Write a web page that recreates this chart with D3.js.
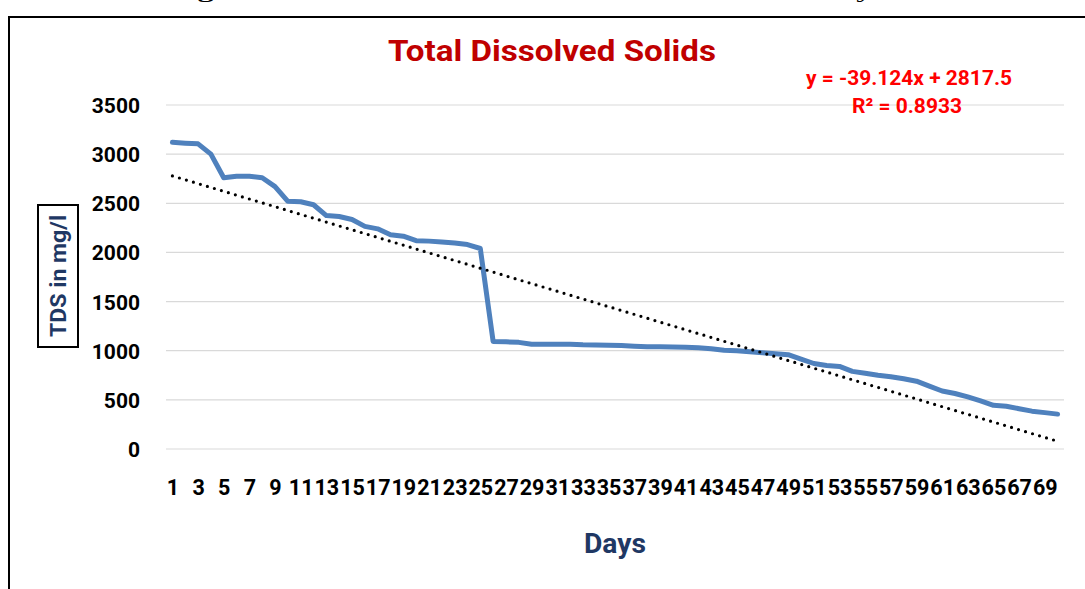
<!DOCTYPE html>
<html>
<head>
<meta charset="utf-8">
<script src="https://cdnjs.cloudflare.com/ajax/libs/d3/7.8.5/d3.min.js"></script>
<style>
  body { margin: 0; background: #fff; }
  svg { display: block; font-family: Roboto, "Liberation Sans", sans-serif; }
</style>
</head>
<body>
<div id="chart"></div>
<script>
// Donnees (TDS en mg/l, jours 1 a 70)
const days = d3.range(1, 71);
const tds = [
  3120, 3112, 3105, 3000, 2760, 2775, 2775, 2760, 2670, 2520,
  2515, 2485, 2375, 2365, 2335, 2265, 2240, 2180, 2165, 2120,
  2115, 2105, 2095, 2080, 2040, 1095, 1090, 1085, 1065, 1065,
  1065, 1065, 1060, 1058, 1055, 1052, 1045, 1040, 1040, 1038,
  1035, 1030, 1020, 1005, 1000, 990, 980, 970, 960, 915,
  870, 850, 840, 790, 770, 750, 735, 715, 690, 640,
  590, 565, 530, 490, 445, 435, 410, 385, 370, 355
];
const yTicks = [0, 500, 1000, 1500, 2000, 2500, 3000, 3500];
const trendSlope = -39.124, trendIntercept = 2817.5, rSquared = 0.8933;

var width = 1085, height = 589;
var plot = { left: 166, right: 1064, top: 105, bottom: 449 };

var svg = d3.select("#chart").append("svg")
    .attr("width", width)
    .attr("height", height);

// Legende de la figure, coupee en haut comme sur l'original
svg.append("text")
    .attr("x", 170).attr("y", -2)
    .attr("textLength", 722)
    .attr("lengthAdjust", "spacingAndGlyphs")
    .style("font-family", "'Liberation Serif', 'DejaVu Serif', serif")
    .style("font-weight", "bold")
    .style("font-size", "17px")
    .text("Figure 3.6: Variation of TDS concentration in 70 days.");

svg.append("path")
    .attr("d", "M9,589 V17 H1085")
    .attr("fill", "none")
    .attr("stroke", "black")
    .attr("stroke-width", 2);

var x = d3.scalePoint()
    .domain(days)
    .range([plot.left, plot.right])
    .padding(0.5);

var y = d3.scaleLinear()
    .domain([0, 3500])
    .range([plot.bottom, plot.top]);

// Grille
svg.append("g").selectAll("line")
    .data(yTicks)
    .enter().append("line")
    .attr("x1", plot.left).attr("x2", plot.right)
    .attr("y1", d => y(d)).attr("y2", d => y(d))
    .attr("stroke", "#d9d9d9")
    .attr("stroke-width", 1.2);

// Axe Y
var yAxis = svg.append("g")
    .attr("transform", "translate(140,0)")
    .call(d3.axisLeft(y).tickValues(yTicks).tickFormat(d3.format("d")).tickSize(0).tickPadding(0));
yAxis.select(".domain").remove();
yAxis.selectAll("text")
    .attr("dy", "0.36em")
    .style("font-family", "Roboto, sans-serif")
    .style("font-weight", "bold")
    .style("font-size", "21px")
    .attr("fill", "#000");

// Axe X (un jour sur deux)
var xAxis = svg.append("g")
    .attr("transform", "translate(0," + plot.bottom + ")")
    .call(d3.axisBottom(x).tickValues(days.filter(d => d % 2 === 1)).tickSize(0).tickPadding(0));
xAxis.select(".domain").remove();
xAxis.selectAll("text")
    .attr("y", 46)
    .attr("dy", 0)
    .style("font-family", "Roboto, sans-serif")
    .style("font-weight", "bold")
    .style("font-size", "21.5px")
    .attr("fill", "#000");

// Courbe TDS
var line = d3.line()
    .x((d, i) => x(days[i]))
    .y(d => y(d));

svg.append("path")
    .datum(tds)
    .attr("d", line)
    .attr("fill", "none")
    .attr("stroke", "#4f81bd")
    .attr("stroke-width", 5)
    .attr("stroke-linejoin", "round")
    .attr("stroke-linecap", "round");

// Tendance lineaire
var d0 = days[0], d1 = days[days.length - 1];
svg.append("line")
    .attr("x1", x(d0)).attr("y1", y(trendSlope * d0 + trendIntercept))
    .attr("x2", x(d1)).attr("y2", y(trendSlope * d1 + trendIntercept))
    .attr("stroke", "#000")
    .attr("stroke-width", 3.2)
    .attr("stroke-linecap", "round")
    .attr("stroke-dasharray", "0 7.3");

// Titre
svg.append("text")
    .attr("x", 552).attr("y", 61)
    .attr("text-anchor", "middle")
    .attr("textLength", 328)
    .attr("lengthAdjust", "spacingAndGlyphs")
    .attr("fill", "#c00000")
    .style("font-weight", "bold")
    .style("font-size", "30px")
    .text("Total Dissolved Solids");

// Equation
svg.append("text")
    .attr("x", 909).attr("y", 85)
    .attr("text-anchor", "middle")
    .attr("textLength", 206)
    .attr("lengthAdjust", "spacingAndGlyphs")
    .attr("fill", "#ff0000")
    .style("font-weight", "bold")
    .style("font-size", "21px")
    .text("y = " + trendSlope + "x + " + trendIntercept);

svg.append("text")
    .attr("x", 907).attr("y", 113)
    .attr("text-anchor", "middle")
    .attr("textLength", 110)
    .attr("lengthAdjust", "spacingAndGlyphs")
    .attr("fill", "#ff0000")
    .style("font-weight", "bold")
    .style("font-size", "21px")
    .text("R² = " + rSquared);

// Titre axe X
svg.append("text")
    .attr("x", 615).attr("y", 553)
    .attr("text-anchor", "middle")
    .attr("textLength", 62)
    .attr("lengthAdjust", "spacingAndGlyphs")
    .attr("fill", "#1f3864")
    .style("font-weight", "bold")
    .style("font-size", "28px")
    .text("Days");

// Titre axe Y dans un cadre
var yTitle = svg.append("g").attr("transform", "translate(58,276) rotate(-90)");
yTitle.append("rect")
    .attr("x", -71).attr("y", -20)
    .attr("width", 142).attr("height", 40)
    .attr("fill", "#fff")
    .attr("stroke", "#000")
    .attr("stroke-width", 2);
yTitle.append("text")
    .attr("x", 0).attr("y", 8)
    .attr("text-anchor", "middle")
    .attr("textLength", 122)
    .attr("lengthAdjust", "spacingAndGlyphs")
    .attr("fill", "#1f3864")
    .style("font-weight", "bold")
    .style("font-size", "22px")
    .text("TDS in mg/l");
</script>
</body>
</html>
